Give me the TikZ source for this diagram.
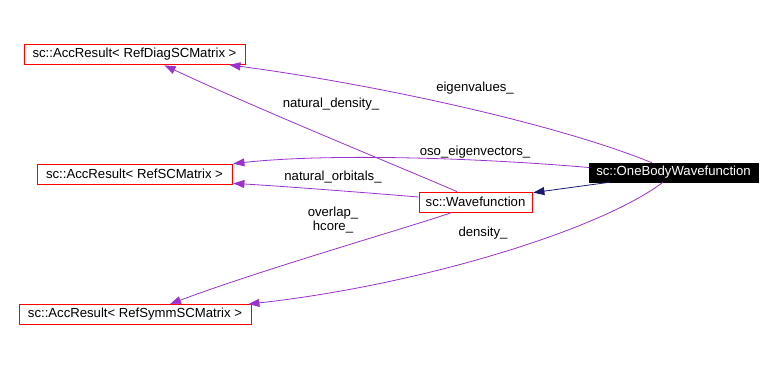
\documentclass[tikz,border=0pt]{standalone}
\usepackage{fontspec}
\setmainfont{Liberation Sans}
\usetikzlibrary{arrows.meta,calc}
\definecolor{usecol}{HTML}{9A32CD}
\definecolor{inhcol}{HTML}{191970}
\begin{document}
\begin{tikzpicture}[x=1bp,y=-1bp,
  font=\fontsize{13.2}{15}\selectfont,
  cls/.style={draw=red,fill=white,line width=0.8bp,inner sep=0pt,minimum height=20bp},
  cur/.style={draw=black,fill=black,text=white,inner sep=0pt,minimum height=19bp},
  use/.style={draw=usecol,line width=0.8bp,-{Triangle[length=11bp,width=8bp]}},
  inh/.style={draw=inhcol,line width=0.8bp,-{Triangle[length=11bp,width=8bp]}},
  lbl/.style={inner sep=0pt,align=center}]
\useasboundingbox (0,0) rectangle (774,376);
\node[cls,minimum width=221bp] (diag) at (134.5,54.5) {sc::AccResult< RefDiagSCMatrix >};
\node[cls,minimum width=195bp] (sc) at (134.5,174) {sc::AccResult< RefSCMatrix >};
\node[cls,minimum width=232bp] (symm) at (135,314.5) {sc::AccResult< RefSymmSCMatrix >};
\node[cls,minimum width=113bp] (wf) at (475.5,202) {sc::Wavefunction};
\node[cur,minimum width=169bp] (ob) at (673.5,172.5) {sc::OneBodyWavefunction};
% eigenvalues_
\draw[use] ($(ob.north)+(-21.5,0)$) .. controls (560,125) and (380,85) .. ($(diag.south east)+(-16,0)$);
\node[lbl] (leig) at (475,88) {eigenvalues\_};
% natural_density_
\draw[use] ($(wf.north)+(-18.5,0)$) .. controls (400,167) and (260,110) .. ($(diag.south)+(30,0.5)$);
\node[lbl] (lnd) at (331,104) {natural\_density\_};
% oso_eigenvectors_
\draw[use] ($(ob.west)+(0,-5)$) .. controls (480,158) and (330,153) .. ($(sc.north east)+(1,0)$);
\node[lbl] (loso) at (475,152) {oso\_eigenvectors\_};
% natural_orbitals_
\draw[use] ($(wf.west)+(0,-5)$) .. controls (370,193) and (280,186) .. ($(sc.south east)+(1,-1)$);
\node[lbl] (lno) at (333,177) {natural\_orbitals\_};
% overlap_ hcore_
\draw[use] ($(wf.south)+(-23.5,0)$) .. controls (420,224) and (260,270) .. ($(symm.north)+(35,0)$);
\node[lbl] (lov) at (333,213) {overlap\_};
\node[lbl] (lhc) at (333,227) {hcore\_};
% density_
\draw[use] ($(ob.south)+(-10.5,0)$) .. controls (600,230) and (420,285) .. ($(symm.north east)+(-3,0)$);
\node[lbl] (lden) at (483,233) {density\_};
% inheritance
\draw[inh] ($(ob.south west)+(21,0)$) -- ($(wf.north east)+(1,1)$);
\end{tikzpicture}
\end{document}
